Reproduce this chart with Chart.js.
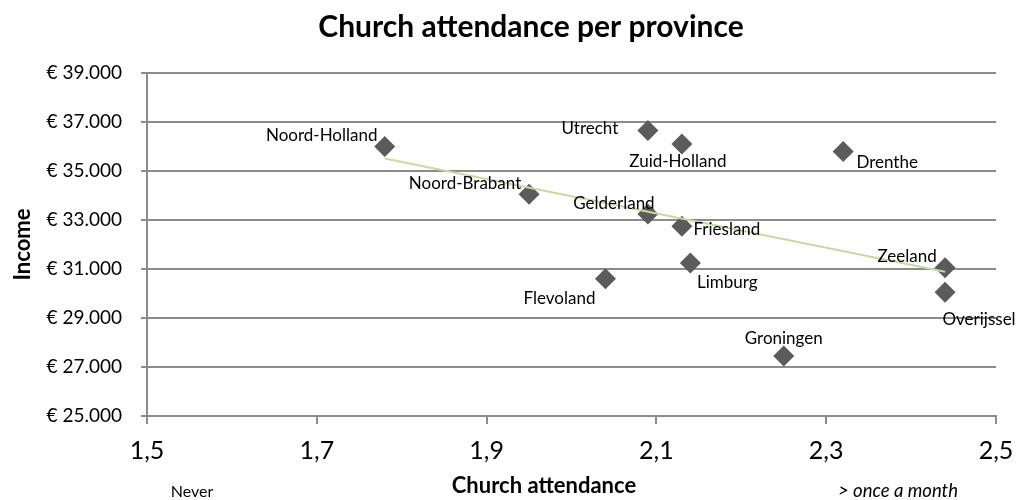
<!DOCTYPE html>
<html>
<head>
<meta charset="utf-8">
<title>Church attendance per province</title>
<script src="https://cdn.jsdelivr.net/npm/chart.js@4/dist/chart.umd.min.js"></script>
<style>
  html, body { margin: 0; padding: 0; background: #ffffff; }
  #wrap { width: 1020px; height: 500px; }
</style>
</head>
<body>
<div id="wrap"><canvas id="chart" width="1020" height="500"></canvas></div>
<script>
// Provinces with average church attendance score and average income
const provinces = ['Noord-Holland', 'Utrecht', 'Zuid-Holland', 'Drenthe', 'Noord-Brabant', 'Gelderland',
                   'Friesland', 'Limburg', 'Flevoland', 'Zeeland', 'Overijssel', 'Groningen'];
const attendance = [1.78, 2.09, 2.13, 2.32, 1.95, 2.09, 2.13, 2.14, 2.04, 2.44, 2.44, 2.25];
const income = [36000, 36650, 36100, 35800, 34050, 33250, 32750, 31250, 30600, 31050, 30050, 27450];

// Axis ranges and tick steps
const xRange = [1.5, 2.5];
const xStep = 0.2;
const yRange = [25000, 39000];
const yStep = 2000;

// Where each province name sits relative to its marker (pixels)
const labelOffset = [[-63, -11], [-58, -2], [-4, 17], [44, 11], [-64, -11], [-34, -10],
                     [45, 3], [37, 20], [-46, 20], [-38, -11], [34, 27], [0, -17]];

const FONT = 'Lato, "Open Sans", "Liberation Sans", sans-serif';
const GRID = '#8c8c8c';

const points = attendance.map((x, i) => ({ x: x, y: income[i] }));

// Least-squares trend line across the data
const n = attendance.length;
const mx = attendance.reduce((a, b) => a + b, 0) / n;
const my = income.reduce((a, b) => a + b, 0) / n;
let sxy = 0, sxx = 0;
for (let i = 0; i < n; i++) {
  sxy += (attendance[i] - mx) * (income[i] - my);
  sxx += (attendance[i] - mx) * (attendance[i] - mx);
}
const slope = sxy / sxx;
const intercept = my - slope * mx;
const xMin = Math.min(...attendance), xMax = Math.max(...attendance);
const trend = [xMin, xMax].map(x => ({ x: x, y: intercept + slope * x }));

function euro(v) {
  return '\u20AC ' + String(Math.round(v)).replace(/\B(?=(\d{3})+(?!\d))/g, '.');
}

const textPlugin = {
  id: 'chartText',
  afterDatasetsDraw(chart) {
    const ctx = chart.ctx;
    const meta = chart.getDatasetMeta(1);
    ctx.save();
    ctx.fillStyle = '#000';
    ctx.font = '17px ' + FONT;
    ctx.textAlign = 'center';
    ctx.textBaseline = 'middle';
    meta.data.forEach((el, i) => {
      ctx.fillText(provinces[i], el.x + labelOffset[i][0], el.y + labelOffset[i][1]);
    });
    ctx.restore();
  },
  afterDraw(chart) {
    const ctx = chart.ctx;
    ctx.save();
    ctx.fillStyle = '#000';
    ctx.textAlign = 'center';
    ctx.textBaseline = 'alphabetic';
    ctx.font = 'bold 30px ' + FONT;
    ctx.fillText('Church attendance per province', 531, 37);
    ctx.font = 'bold 22px ' + FONT;
    ctx.fillText('Church attendance', 544, 493);
    ctx.font = '16px ' + FONT;
    ctx.fillText('Never', 192, 497);
    ctx.font = 'italic 18.5px ' + FONT;
    ctx.fillText('> once a month', 898, 497);
    ctx.restore();
  }
};

new Chart(document.getElementById('chart'), {
  type: 'scatter',
  data: {
    datasets: [
      {
        type: 'line',
        label: 'Trend',
        data: trend,
        borderColor: '#c9d9a6',
        borderWidth: 2,
        pointRadius: 0,
        fill: false,
        order: 0
      },
      {
        label: 'Provinces',
        data: points,
        pointStyle: 'rectRot',
        pointRadius: 10.5,
        pointHoverRadius: 10.5,
        backgroundColor: '#5b5b5b',
        borderColor: '#5b5b5b',
        borderWidth: 0,
        order: 1
      }
    ]
  },
  options: {
    responsive: false,
    animation: false,
    devicePixelRatio: 1,
    layout: { padding: { top: 73, right: 24, left: 0, bottom: 0 } },
    plugins: {
      legend: { display: false },
      title: { display: false },
      tooltip: { enabled: false }
    },
    scales: {
      x: {
        type: 'linear',
        min: xRange[0],
        max: xRange[1],
        afterFit(scale) {
          scale.height = 84;
          scale.paddingLeft = 0;
          scale.paddingRight = 0;
        },
        ticks: {
          stepSize: xStep,
          padding: 12,
          color: '#000',
          font: { family: FONT, size: 25 },
          callback: v => v.toFixed(1).replace('.', ',')
        },
        grid: { drawOnChartArea: false, drawTicks: true, tickLength: 8, color: GRID, lineWidth: 2 },
        border: { display: true, color: GRID, width: 2 }
      },
      y: {
        type: 'linear',
        min: yRange[0],
        max: yRange[1],
        afterFit(scale) { scale.width = 147; },
        ticks: {
          stepSize: yStep,
          padding: 19,
          color: '#000',
          font: { family: FONT, size: 19 },
          callback: v => euro(v)
        },
        grid: { drawTicks: true, tickLength: 6, color: GRID, lineWidth: 2 },
        border: { display: true, color: GRID, width: 2 },
        title: {
          display: true,
          text: 'Income',
          color: '#000',
          font: { family: FONT, size: 22, weight: 'bold' },
          padding: { top: 10, bottom: 0 }
        }
      }
    }
  },
  plugins: [textPlugin]
});
</script>
</body>
</html>
